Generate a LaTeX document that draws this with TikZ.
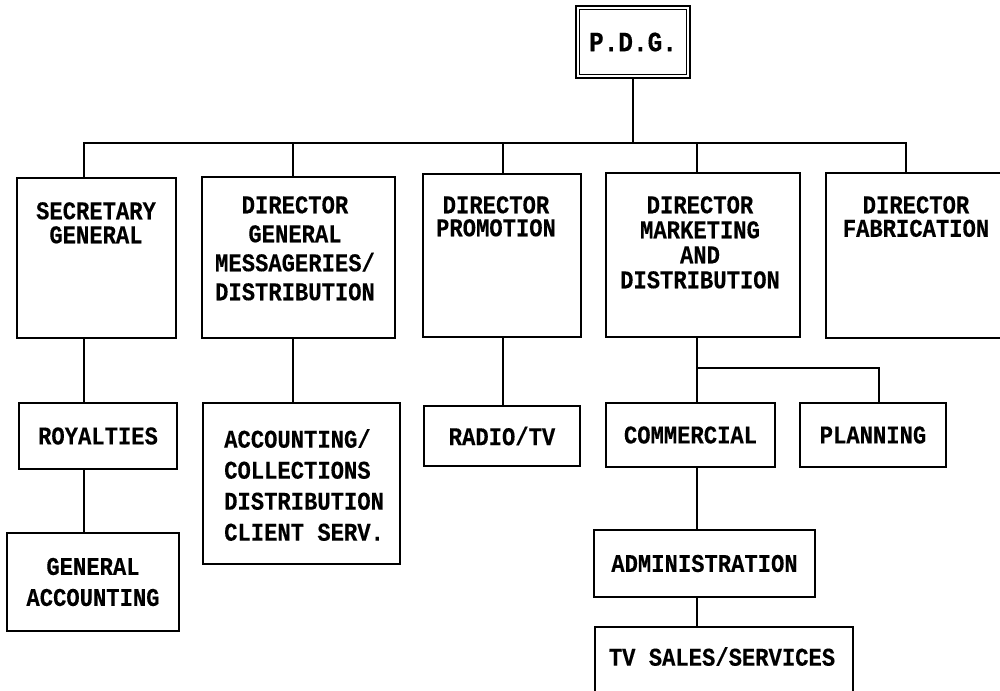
\documentclass[tikz,border=0pt]{standalone}
\usepackage{fontspec}
\usetikzlibrary{calc}
\newfontfamily\typewriter[FakeStretch=0.87,FakeBold=0.25]{Liberation Mono}
\newcommand\tw[1]{\typewriter\bfseries\fontsize{25.5}{#1}\selectfont}
\tikzset{
  box/.style={draw, line width=2.6pt, inner sep=0pt, align=center},
  wire/.style={line width=2.3pt, line join=miter},
  lbl/.style={inner sep=0pt, align=center, anchor=north},
}
\begin{document}
\begin{tikzpicture}[x=1pt, y=-1pt, font=\tw{25}]
\useasboundingbox (0,0) rectangle (1000,690);
\clip (0,0) rectangle (1000,690);

% top of the chart
\node[box, minimum width=114pt, minimum height=72pt,
      font={\typewriter\bfseries\fontsize{28}{28}\selectfont}] (pdg) at (633,42) {P.D.G.};
\draw[line width=1.2pt] ($(pdg.north west)+(5,5)$) rectangle ($(pdg.south east)+(-5,-5)$);

% first level
\node[box, minimum width=159pt, minimum height=160pt] (sec)   at (96.5,258)  {};
\node[box, minimum width=193pt, minimum height=161pt] (dg)    at (298.5,257.5) {};
\node[box, minimum width=158pt, minimum height=163pt] (promo) at (502,255.5) {};
\node[box, minimum width=194pt, minimum height=164pt] (mkt)   at (703,255)   {};
\node[box, minimum width=184pt, minimum height=165pt] (fab)   at (918,255.5) {};

\node[lbl, font=\tw{24}]   (secT)   at (96,202)  {SECRETARY\\GENERAL};
\node[lbl, font=\tw{29}]   (dgT)    at (295,196) {DIRECTOR\\GENERAL\\MESSAGERIES/\\DISTRIBUTION};
\node[lbl, font=\tw{23}]   (promoT) at (496,196) {DIRECTOR\\PROMOTION};
\node[lbl, font=\tw{25}]   (mktT)   at (700,196) {DIRECTOR\\MARKETING\\AND\\DISTRIBUTION};
\node[lbl, font=\tw{23.5}] (fabT)   at (916,196) {DIRECTOR\\FABRICATION};

% lower levels
\node[box, minimum width=158pt, minimum height=66pt]  (roy)   at (98,436)    {ROYALTIES};
\node[box, minimum width=172pt, minimum height=98pt, font=\tw{31}] (gacc) at (93,582) {GENERAL\\ACCOUNTING};
\node[box, minimum width=197pt, minimum height=161pt] (acc)   at (301.5,483.5) {};
\node[inner sep=0pt, align=left, anchor=north west, font=\tw{31}] (accT) at (224,429)
  {ACCOUNTING/\\COLLECTIONS\\DISTRIBUTION\\CLIENT SERV.};
\node[box, minimum width=156pt, minimum height=60pt]  (radio) at (502,436)   {RADIO/TV};
\node[box, minimum width=169pt, minimum height=64pt]  (comm)  at (690.5,435) {COMMERCIAL};
\node[box, minimum width=146pt, minimum height=64pt]  (plan)  at (873,435)   {PLANNING};
\node[box, minimum width=221pt, minimum height=67pt]  (admin) at (704.5,563.5) {ADMINISTRATION};
\node[box, minimum width=258pt, minimum height=78pt]  (tv)    at (724,666)   {};
\node[lbl] (tvT) at (722,647) {TV SALES/SERVICES};

% connectors
\coordinate (jsec)   at (84,143);
\coordinate (jdg)    at (293,143);
\coordinate (jpromo) at (503,143);
\coordinate (jmkt)   at (697,143);
\coordinate (jfab)   at (906,143);
\coordinate (jbr)    at (697,368);
\coordinate (jplan)  at (879,368);

\draw[wire] (pdg.south) -- (pdg.south |- jsec);
\draw[wire] (jsec |- sec.north) -- (jsec) -- (jfab) -- (jfab |- fab.north);
\draw[wire] (jdg) -- (jdg |- dg.north);
\draw[wire] (jpromo) -- (jpromo |- promo.north);
\draw[wire] (jmkt) -- (jmkt |- mkt.north);

\draw[wire] (jsec |- sec.south) -- (jsec |- roy.north);
\draw[wire] (jsec |- roy.south) -- (jsec |- gacc.north);
\draw[wire] (jdg |- dg.south) -- (jdg |- acc.north);
\draw[wire] (jpromo |- promo.south) -- (jpromo |- radio.north);
\draw[wire] (jbr |- mkt.south) -- (jbr |- comm.north);
\draw[wire] (jbr) -- (jplan) -- (jplan |- plan.north);
\draw[wire] (jbr |- comm.south) -- (jbr |- admin.north);
\draw[wire] (jbr |- admin.south) -- (jbr |- tv.north);
\end{tikzpicture}
\end{document}
